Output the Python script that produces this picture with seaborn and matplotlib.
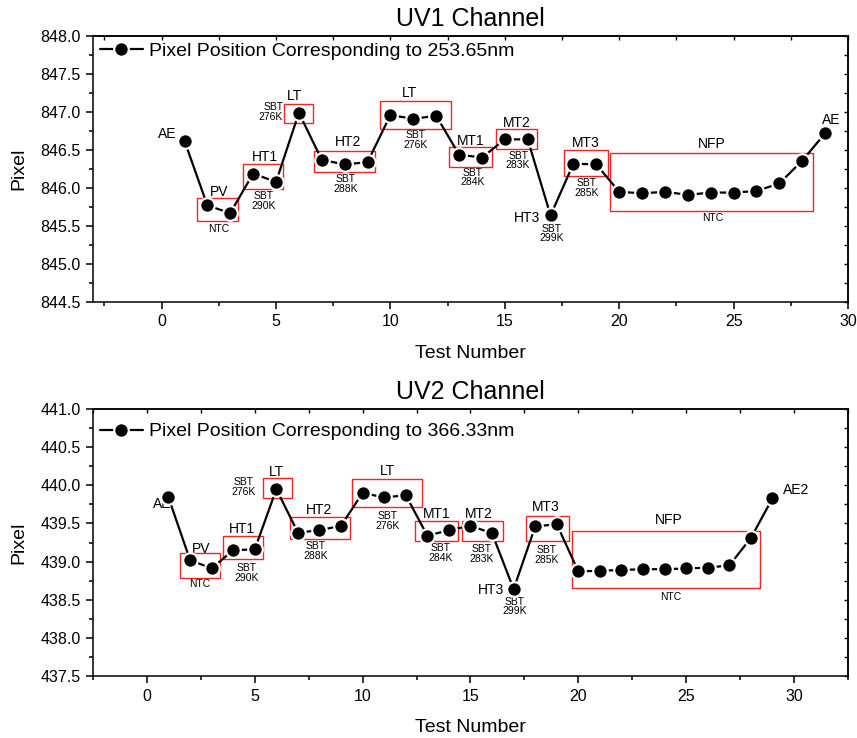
import matplotlib
matplotlib.use("Agg")
import matplotlib.pyplot as plt
from matplotlib.patches import Rectangle
from matplotlib.ticker import MultipleLocator, FormatStrFormatter, NullFormatter
import pandas as pd
import seaborn as sns

# ---- data -------------------------------------------------------------
test_number = list(range(1, 30))

uv1_pixel = [846.62, 845.77, 845.67, 846.19, 846.08, 846.99, 846.37, 846.31, 846.34,
             846.96, 846.91, 846.95, 846.44, 846.40, 846.64, 846.64, 845.64, 846.32,
             846.31, 845.95, 845.93, 845.95, 845.91, 845.94, 845.94, 845.96, 846.06,
             846.36, 846.72]

uv2_pixel = [439.84, 439.02, 438.91, 439.15, 439.16, 439.95, 439.38, 439.41, 439.47,
             439.90, 439.84, 439.87, 439.34, 439.41, 439.47, 439.37, 438.64, 439.46,
             439.49, 438.87, 438.88, 438.89, 438.90, 438.90, 438.91, 438.92, 438.95,
             439.31, 439.83]

uv1_legend = "Pixel Position Corresponding to 253.65nm"
uv2_legend = "Pixel Position Corresponding to 366.33nm"

# test-condition groups: (x0, x1, y0, y1) in data units
uv1_boxes = [(1.55, 3.33, 845.57, 845.87), (3.56, 5.30, 845.99, 846.31),
             (5.36, 6.63, 846.86, 847.11), (6.68, 9.31, 846.21, 846.49),
             (9.55, 12.64, 846.78, 847.14), (12.56, 14.46, 846.28, 846.54),
             (14.63, 16.41, 846.51, 846.77), (17.59, 19.50, 846.16, 846.50),
             (19.59, 28.48, 845.70, 846.46)]
uv2_boxes = [(1.54, 3.41, 438.79, 439.11), (3.53, 5.40, 439.03, 439.34),
             (5.40, 6.74, 439.83, 440.09), (6.62, 9.41, 439.29, 439.58),
             (9.49, 12.76, 439.72, 440.08), (12.44, 14.41, 439.27, 439.53),
             (14.61, 16.50, 439.27, 439.53), (17.58, 19.58, 439.27, 439.60),
             (19.71, 28.44, 438.66, 439.40)]

# phase labels: (text, x, y, size class, horizontal alignment)
uv1_labels = [
    ("AE", 0.67, 846.71, "big", "right"),
    ("PV", 2.5, 845.95, "big", "center"),
    ("NTC", 2.5, 845.46, "small", "center"),
    ("HT1", 4.52, 846.41, "big", "center"),
    ("SBT\n290K", 4.47, 845.83, "small", "center"),
    ("LT", 5.82, 847.21, "big", "center"),
    ("SBT\n276K", 5.31, 847.00, "small", "right"),
    ("HT2", 8.15, 846.60, "big", "center"),
    ("SBT\n288K", 8.05, 846.05, "small", "center"),
    ("LT", 10.84, 847.25, "big", "center"),
    ("SBT\n276K", 11.10, 846.63, "small", "center"),
    ("MT1", 13.50, 846.62, "big", "center"),
    ("SBT\n284K", 13.60, 846.14, "small", "center"),
    ("MT2", 15.54, 846.85, "big", "center"),
    ("SBT\n283K", 15.58, 846.36, "small", "center"),
    ("HT3", 16.53, 845.61, "big", "right"),
    ("SBT\n299K", 17.04, 845.40, "small", "center"),
    ("MT3", 18.54, 846.59, "big", "center"),
    ("SBT\n285K", 18.57, 846.00, "small", "center"),
    ("NFP", 24.04, 846.58, "big", "center"),
    ("NTC", 24.10, 845.60, "small", "center"),
    ("AE", 29.25, 846.89, "big", "center"),
]
uv2_labels = [
    ("AE", 1.14, 439.76, "big", "right"),
    ("PV", 2.5, 439.17, "big", "center"),
    ("NTC", 2.45, 438.71, "small", "center"),
    ("HT1", 4.41, 439.43, "big", "center"),
    ("SBT\n290K", 4.61, 438.85, "small", "center"),
    ("SBT\n276K", 4.46, 439.98, "small", "center"),
    ("LT", 6.03, 440.17, "big", "center"),
    ("HT2", 7.98, 439.68, "big", "center"),
    ("SBT\n288K", 7.82, 439.14, "small", "center"),
    ("LT", 11.13, 440.19, "big", "center"),
    ("SBT\n276K", 11.14, 439.53, "small", "center"),
    ("MT1", 13.44, 439.63, "big", "center"),
    ("SBT\n284K", 13.61, 439.11, "small", "center"),
    ("MT2", 15.37, 439.62, "big", "center"),
    ("SBT\n283K", 15.52, 439.10, "small", "center"),
    ("HT3", 16.57, 438.63, "big", "right"),
    ("SBT\n299K", 17.04, 438.41, "small", "center"),
    ("MT3", 18.50, 439.71, "big", "center"),
    ("SBT\n285K", 18.53, 439.09, "small", "center"),
    ("NFP", 24.21, 439.55, "big", "center"),
    ("NTC", 24.29, 438.53, "small", "center"),
    ("AE2", 30.08, 439.94, "big", "center"),
]

# ---- style ------------------------------------------------------------
sns.set_theme(style="ticks")
plt.rcParams["font.family"] = ["Liberation Sans", "DejaVu Sans"]
plt.rcParams.update({
    "axes.linewidth": 1.1,
    "text.color": "black",
    "axes.labelcolor": "black",
    "axes.titlecolor": "black",
    "xtick.color": "black",
    "ytick.color": "black",
    "axes.edgecolor": "black",
})

fig = plt.figure(figsize=(8.57, 7.38), dpi=100)
ax1 = fig.add_axes([0.1085, 0.5908, 0.8810, 0.3604])
ax2 = fig.add_axes([0.1085, 0.0840, 0.8810, 0.3618])

panels = [
    (ax1, "UV1 Channel", uv1_pixel, uv1_legend, uv1_boxes, uv1_labels,
     (-3, 30), (844.5, 848.0), 0.977),
    (ax2, "UV2 Channel", uv2_pixel, uv2_legend, uv2_boxes, uv2_labels,
     (-2.5, 32.5), (437.5, 441.0), 0.948),
]

for ax, title, values, legend_text, boxes, labels, xlim, ylim, leg_y in panels:
    df = pd.DataFrame({"Test Number": test_number, "Pixel": values})
    sns.lineplot(data=df, x="Test Number", y="Pixel", ax=ax, color="black",
                 linewidth=1.6, marker="o", markersize=10.5,
                 markerfacecolor="black", markeredgecolor="white",
                 markeredgewidth=1.6, label=legend_text, zorder=3)

    for x0, x1, y0, y1 in boxes:
        ax.add_patch(Rectangle((x0, y0), x1 - x0, y1 - y0, fill=False,
                               edgecolor="#ff2020", linewidth=1.0, zorder=2))

    for text, x, y, kind, ha in labels:
        ax.text(x, y, text, ha=ha, va="center",
                fontsize=10 if kind == "big" else 7.5,
                linespacing=0.95, color="black", zorder=1)

    ax.set_xlim(*xlim)
    ax.set_ylim(*ylim)
    ax.xaxis.set_major_locator(MultipleLocator(5))
    ax.xaxis.set_minor_locator(MultipleLocator(2.5))
    ax.yaxis.set_major_locator(MultipleLocator(0.5))
    ax.yaxis.set_minor_locator(MultipleLocator(0.25))
    ax.yaxis.set_major_formatter(FormatStrFormatter("%.1f"))
    ax.tick_params(axis="both", which="major", direction="out", length=5,
                   width=1.1, labelsize=11.5, pad=4)
    ax.tick_params(axis="both", which="minor", direction="out", length=3,
                   width=1.1)
    for side in ["top", "right", "bottom", "left"]:
        ax.spines[side].set_visible(True)

    # short inward ticks along the opposite edges
    top = ax.secondary_xaxis("top")
    top.xaxis.set_major_locator(MultipleLocator(2.5))
    top.xaxis.set_major_formatter(NullFormatter())
    top.tick_params(direction="in", length=3, width=1.0)
    right = ax.secondary_yaxis("right")
    right.yaxis.set_major_locator(MultipleLocator(0.25))
    right.yaxis.set_major_formatter(NullFormatter())
    right.tick_params(direction="in", length=3, width=1.0)

    ax.set_title(title, fontsize=18, pad=7)
    ax.set_xlabel("Test Number", fontsize=14, labelpad=11)
    ax.set_ylabel("Pixel", fontsize=14, labelpad=9)

    ax.legend(loc="upper left", bbox_to_anchor=(0.009, leg_y),
              frameon=False, fontsize=14, handlelength=2.2,
              handletextpad=0.35, borderaxespad=0, borderpad=0)

fig.savefig("out.png", dpi=100)
